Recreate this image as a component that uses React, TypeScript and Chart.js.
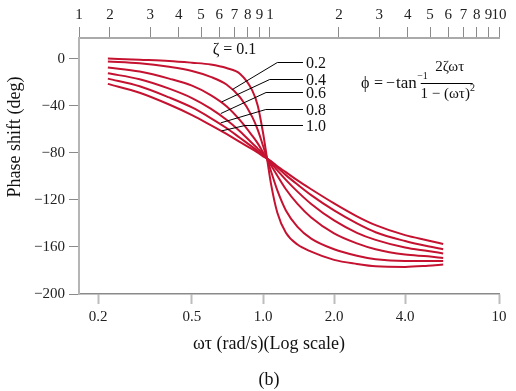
import React, { useEffect, useRef } from "react";
import { Chart, registerables } from "chart.js";

Chart.register(...registerables);

// ---- data ----
const omegaTau = [0.22, 0.3, 0.4, 0.5, 0.6, 0.7, 0.8, 0.9, 0.95, 1.0, 1.04, 1.08, 1.15, 1.25, 1.4, 1.6, 2.0, 2.5, 3.0, 4.0, 5.0, 5.8];
const zeta01 = [0, -1, -2, -3.5, -5, -8, -13, -27, -40, -63, -85, -106, -131, -148, -158, -164, -171, -174.5, -176.5, -177, -176, -175];
const zeta02 = [-2.5, -4, -7, -10.5, -15.5, -22, -33, -49.5, -60.5, -74, -85, -95.5, -112, -129, -143, -153, -162, -167.5, -170.5, -172, -172, -172];
const zeta04 = [-7.5, -11, -17, -23, -31, -40.5, -52.5, -65.5, -72, -79.5, -85, -90.5, -99.5, -111, -123.5, -135, -148.5, -157, -162, -166.5, -168, -169.5];
const zeta06 = [-12.5, -17.5, -25.5, -33.5, -42.5, -52, -62, -72, -76.5, -81, -85, -88.5, -95, -103, -113, -123.5, -137.5, -148, -154, -160.5, -163.5, -165.5];
const zeta08 = [-17, -23.5, -33, -41.5, -50.5, -59, -67.5, -75, -78.5, -82, -85, -87.5, -92.5, -99, -107, -116, -129, -140, -147.5, -155, -159.5, -162];
const zeta10 = [-21.5, -29, -39, -48, -56.5, -64, -71, -77, -80, -83, -85, -87, -91.5, -96.5, -103.5, -111, -123, -134, -141.5, -150, -154.5, -157.5];
const seriesNames = ["ζ = 0.1", "0.2", "0.4", "0.6", "0.8", "1.0"];

const yTicks = [0, -40, -80, -120, -160, -200];
const bottomTicks = [0.2, 0.5, 1, 2, 4, 10];
const bottomTickLabels = ["0.2", "0.5", "1.0", "2.0", "4.0", "10"];
const topTicks = [0.1466, 0.2, 0.3, 0.4, 0.5, 0.6, 0.7, 0.8, 0.9, 1, 2, 3, 4, 5, 6, 7, 8, 9, 10];
const topTickLabels = ["1", "2", "3", "4", "5", "6", "7", "8", "9", "1", "2", "3", "4", "5", "6", "7", "8", "9", "10"];

// annotation anchors (data space)
const zetaLabelPos = { x: 0.757, y: 7.5 };
const leaderLabels = ["0.2", "0.4", "0.6", "0.8", "1.0"];
const leaderCurveX = [0.741, 0.668, 0.662, 0.662, 0.668];
const leaderCurveY = [-26.3, -36.8, -46.7, -54.6, -61.4];
const leaderElbowX = [1.15, 1.067, 1.03, 1.027, 0.839];
const leaderRowY = [-3.1, -17.6, -28.6, -43, -56.3];
const leaderEndX = 1.477;
const eqAnchor = { x: 2.6, y: -21 };

const RED = "#c41230";
const SERIF = '"Liberation Serif", "Times New Roman", Times, serif';

const annotPlugin = {
  id: "annot",
  afterDraw(chart: any) {
    const { ctx, scales } = chart;
    const X = (v: number) => scales.x.getPixelForValue(v);
    const Y = (v: number) => scales.y.getPixelForValue(v);
    ctx.save();
    ctx.fillStyle = "#111";
    ctx.textBaseline = "middle";

    // zeta = 0.1 label
    ctx.font = `16px ${SERIF}`;
    ctx.textAlign = "center";
    ctx.fillText(seriesNames[0], X(zetaLabelPos.x), Y(zetaLabelPos.y));

    // leader lines
    ctx.strokeStyle = "#000";
    ctx.lineWidth = 1;
    leaderLabels.forEach((name, i) => {
      const ry = Math.round(Y(leaderRowY[i])) + 0.5;
      ctx.beginPath();
      ctx.moveTo(X(leaderCurveX[i]), Y(leaderCurveY[i]));
      ctx.lineTo(X(leaderElbowX[i]), ry);
      ctx.lineTo(X(leaderEndX), ry);
      ctx.stroke();
      ctx.textAlign = "left";
      ctx.fillText(name, X(leaderEndX) + 3, ry + 1);
    });

    // equation
    const ex = X(eqAnchor.x);
    const ey = Y(eqAnchor.y);
    ctx.font = `16px ${SERIF}`;
    ctx.textAlign = "left";
    ctx.fillText("ϕ", ex, ey);
    ctx.fillText("=", ex + 13, ey);
    ctx.fillText("−", ex + 25, ey);
    ctx.font = `17px ${SERIF}`;
    ctx.fillText("tan", ex + 35, ey);
    const tw = ctx.measureText("tan").width;
    ctx.font = `10px ${SERIF}`;
    ctx.fillText("−1", ex + 35 + tw + 0.5, ey - 7);
    const fl = ex + 35 + tw + 4;
    const fr = fl + 52;
    ctx.beginPath();
    ctx.moveTo(fl, Math.round(ey) + 0.5);
    ctx.lineTo(fr, Math.round(ey) + 0.5);
    ctx.stroke();
    ctx.font = `15px ${SERIF}`;
    ctx.textAlign = "center";
    ctx.fillText("2ζωτ", (fl + fr) / 2 + 3, ey - 16);
    const den = "1 − (ωτ)";
    const dw = ctx.measureText(den).width;
    ctx.font = `10px ${SERIF}`;
    const sw = ctx.measureText("2").width;
    const dl = (fl + fr) / 2 + 1 - (dw + sw) / 2;
    ctx.font = `15px ${SERIF}`;
    ctx.textAlign = "left";
    ctx.fillText(den, dl, ey + 11);
    ctx.font = `10px ${SERIF}`;
    ctx.fillText("2", dl + dw, ey + 5);

    // axis titles
    ctx.font = `18px ${SERIF}`;
    ctx.textAlign = "center";
    ctx.fillText("ωτ (rad/s)(Log scale)", 269, 344);
    ctx.fillText("(b)", 269, 380);
    ctx.translate(15, 137);
    ctx.rotate(-Math.PI / 2);
    ctx.fillText("Phase shift (deg)", 0, 0);
    ctx.restore();
  },
};

export default function App() {
  const ref = useRef<HTMLCanvasElement | null>(null);
  useEffect(() => {
    if (!ref.current) return;
    const all = [zeta01, zeta02, zeta04, zeta06, zeta08, zeta10];
    const chart = new Chart(ref.current, {
      type: "line",
      data: {
        datasets: all.map((arr, i) => ({
          label: seriesNames[i],
          data: omegaTau.map((x, j) => ({ x, y: arr[j] })),
          borderColor: RED,
          backgroundColor: RED,
          borderWidth: 2,
          pointRadius: 0,
          fill: false,
          cubicInterpolationMode: "monotone",
          xAxisID: "x",
          yAxisID: "y",
        })),
      },
      options: {
        responsive: false,
        animation: false,
        devicePixelRatio: 1,
        layout: { padding: { left: 0, right: 17, top: 0, bottom: 0 } },
        plugins: { legend: { display: false }, tooltip: { enabled: false }, title: { display: false } },
        scales: {
          x: {
            type: "logarithmic",
            position: "bottom",
            min: 0.166,
            max: 10,
            afterBuildTicks: (s: any) => {
              s.ticks = bottomTicks.map((v) => ({ value: v }));
            },
            afterFit: (s: any) => {
              s.height = 97;
            },
            ticks: {
              autoSkip: false,
              maxRotation: 0,
              minRotation: 0,
              padding: 4,
              color: "#222",
              font: { family: SERIF, size: 15 },
              callback: (_v: any, i: number) => bottomTickLabels[i],
            },
            grid: { drawOnChartArea: false, drawTicks: true, tickLength: 10, tickColor: "#bdbdbd", tickWidth: 2 },
            border: { color: "#8a8a8a", width: 1.5 },
          },
          x2: {
            type: "logarithmic",
            position: "top",
            min: 0.1466,
            max: 10,
            afterBuildTicks: (s: any) => {
              s.ticks = topTicks.map((v) => ({ value: v }));
            },
            afterFit: (s: any) => {
              s.height = 38;
            },
            ticks: {
              autoSkip: false,
              maxRotation: 0,
              minRotation: 0,
              padding: 3,
              color: "#222",
              font: { family: SERIF, size: 15 },
              callback: (_v: any, i: number) => topTickLabels[i],
            },
            grid: { drawOnChartArea: false, drawTicks: true, tickLength: 11, tickColor: "#8a8a8a", tickWidth: 1 },
            border: { color: "#aaaaaa", width: 2 },
          },
          y: {
            type: "linear",
            min: -200,
            max: 17.5,
            afterBuildTicks: (s: any) => {
              s.ticks = yTicks.map((v) => ({ value: v }));
            },
            afterFit: (s: any) => {
              s.width = 79;
            },
            ticks: {
              padding: 4,
              color: "#222",
              font: { family: SERIF, size: 15 },
              callback: (v: any) => (v === 0 ? "0" : "\u2212" + Math.abs(v)),
            },
            grid: { drawOnChartArea: false, drawTicks: true, tickLength: 10, tickColor: "#8a8a8a", tickWidth: 1 },
            border: { color: "#b5b5b5", width: 2 },
          },
        },
      },
      plugins: [annotPlugin],
    } as any);
    return () => chart.destroy();
  }, []);
  return (
    <div style={{ position: "fixed", left: 0, top: 0, width: 516, height: 391, background: "#fff" }}>
      <canvas ref={ref} width={516} height={391} style={{ display: "block" }} />
    </div>
  );
}
